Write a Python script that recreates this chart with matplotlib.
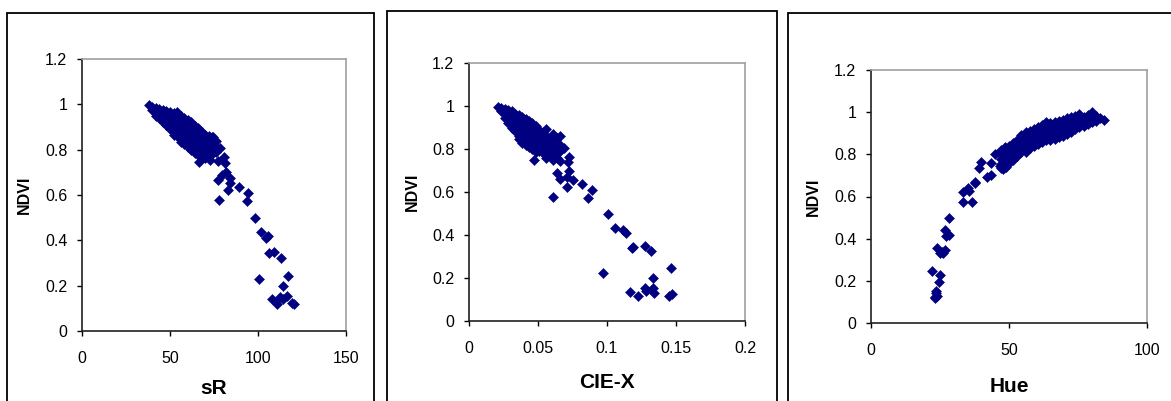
import matplotlib
matplotlib.use("Agg")
import matplotlib.pyplot as plt
from matplotlib.patches import Rectangle
from matplotlib.ticker import FuncFormatter

# sR vs NDVI
sr_pts = [
    (38, 0.995),
    (40, 0.99), (40, 0.975),
    (42, 0.985), (42, 0.965), (42, 0.95),
    (44, 0.98), (44, 0.96), (44, 0.94),
    (46, 0.975), (46, 0.955), (46, 0.935), (46, 0.92),
    (48, 0.97), (48, 0.95), (48, 0.93), (48, 0.91),
    (50, 0.965), (50, 0.945), (50, 0.925), (50, 0.905), (50, 0.89),
    (52, 0.96), (52, 0.94), (52, 0.92), (52, 0.90), (52, 0.88), (52, 0.865),
    (54, 0.965), (54, 0.935), (54, 0.915), (54, 0.895), (54, 0.875), (54, 0.86),
    (56, 0.95), (56, 0.93), (56, 0.91), (56, 0.89), (56, 0.87), (56, 0.85), (56, 0.835),
    (58, 0.94), (58, 0.92), (58, 0.90), (58, 0.88), (58, 0.86), (58, 0.84), (58, 0.825),
    (60, 0.93), (60, 0.91), (60, 0.89), (60, 0.87), (60, 0.85), (60, 0.83), (60, 0.81),
    (62, 0.92), (62, 0.90), (62, 0.88), (62, 0.86), (62, 0.84), (62, 0.82), (62, 0.80),
    (64, 0.905), (64, 0.885), (64, 0.865), (64, 0.845), (64, 0.825), (64, 0.80), (64, 0.785),
    (66, 0.895), (66, 0.875), (66, 0.855), (66, 0.835), (66, 0.815), (66, 0.79), (66, 0.775),
    (68, 0.88), (68, 0.86), (68, 0.84), (68, 0.82), (68, 0.80), (68, 0.78),
    (70, 0.865), (70, 0.845), (70, 0.825), (70, 0.805), (70, 0.785), (70, 0.765),
    (72, 0.86), (72, 0.835), (72, 0.815), (72, 0.795), (72, 0.77),
    (74, 0.855), (74, 0.83), (74, 0.80), (74, 0.78),
    (76, 0.84), (76, 0.81), (76, 0.79),
    (66.6, 0.747), (72.7, 0.754), (77.5, 0.75), (78.4, 0.806), (80.7, 0.769),
    (81.3, 0.74), (77.5, 0.667), (79.4, 0.688), (82, 0.70), (84, 0.673),
    (84, 0.655), (82.8, 0.622), (89.4, 0.634), (77.8, 0.578), (93.5, 0.572),
    (94.5, 0.61), (98.3, 0.497), (101.5, 0.438), (104.5, 0.41), (105.5, 0.42),
    (106.4, 0.343), (109, 0.35), (113, 0.323), (100.8, 0.228), (116.8, 0.244),
    (114.4, 0.199), (107.8, 0.14), (110.6, 0.119), (112.3, 0.15), (116.6, 0.154),
    (114.4, 0.14), (120.6, 0.119), (119.5, 0.125), (74.6, 0.857),
]

# CIE-X vs NDVI
ciex_pts = [
    (0.021, 0.995),
    (0.0235, 0.99), (0.0235, 0.975),
    (0.026, 0.985), (0.026, 0.965), (0.026, 0.945),
    (0.0285, 0.98), (0.0285, 0.96), (0.0285, 0.94), (0.0285, 0.92),
    (0.031, 0.975), (0.031, 0.955), (0.031, 0.935), (0.031, 0.915), (0.031, 0.90),
    (0.0335, 0.965), (0.0335, 0.945), (0.0335, 0.925), (0.0335, 0.905), (0.0335, 0.885),
    (0.036, 0.96), (0.036, 0.94), (0.036, 0.92), (0.036, 0.90), (0.036, 0.88), (0.036, 0.86), (0.036, 0.845),
    (0.0385, 0.95), (0.0385, 0.93), (0.0385, 0.91), (0.0385, 0.89), (0.0385, 0.87), (0.0385, 0.85), (0.0385, 0.83),
    (0.041, 0.94), (0.041, 0.92), (0.041, 0.90), (0.041, 0.88), (0.041, 0.86), (0.041, 0.84), (0.041, 0.82),
    (0.0435, 0.93), (0.0435, 0.91), (0.0435, 0.89), (0.0435, 0.87), (0.0435, 0.85), (0.0435, 0.83), (0.0435, 0.81),
    (0.046, 0.92), (0.046, 0.90), (0.046, 0.88), (0.046, 0.86), (0.046, 0.84), (0.046, 0.82), (0.046, 0.80),
    (0.0485, 0.905), (0.0485, 0.885), (0.0485, 0.865), (0.0485, 0.845), (0.0485, 0.825), (0.0485, 0.805), (0.0485, 0.785),
    (0.051, 0.89), (0.051, 0.87), (0.051, 0.85), (0.051, 0.83), (0.051, 0.81), (0.051, 0.79),
    (0.0535, 0.88), (0.0535, 0.86), (0.0535, 0.84), (0.0535, 0.82), (0.0535, 0.80), (0.0535, 0.78),
    (0.056, 0.895), (0.056, 0.86), (0.056, 0.84), (0.056, 0.82), (0.056, 0.80), (0.056, 0.78), (0.056, 0.76),
    (0.0585, 0.85), (0.0585, 0.83), (0.0585, 0.81), (0.0585, 0.79), (0.0585, 0.77),
    (0.061, 0.87), (0.061, 0.84), (0.061, 0.82), (0.061, 0.80), (0.061, 0.775), (0.061, 0.75),
    (0.0635, 0.85), (0.0635, 0.83), (0.0635, 0.80), (0.0635, 0.76),
    (0.066, 0.862), (0.066, 0.82), (0.066, 0.79), (0.066, 0.745),
    (0.047, 0.749), (0.0688, 0.803), (0.0727, 0.761), (0.0715, 0.74), (0.0727, 0.699),
    (0.0635, 0.687), (0.0659, 0.659), (0.0756, 0.656), (0.071, 0.67), (0.0611, 0.578),
    (0.0708, 0.622), (0.0817, 0.636), (0.0894, 0.608), (0.0865, 0.571), (0.101, 0.496),
    (0.1058, 0.431), (0.1114, 0.423), (0.1135, 0.408), (0.1179, 0.338), (0.119, 0.345),
    (0.1275, 0.35), (0.1316, 0.327), (0.0973, 0.225), (0.1461, 0.245), (0.1331, 0.201),
    (0.1167, 0.136), (0.1227, 0.118), (0.1275, 0.152), (0.128, 0.14), (0.133, 0.155),
    (0.1343, 0.129), (0.1449, 0.118), (0.147, 0.124),
]

# Hue vs NDVI
hue_pts = [
    (47, 0.82), (47, 0.80), (47, 0.78), (47, 0.755), (47, 0.735),
    (48.5, 0.83), (48.5, 0.81), (48.5, 0.79), (48.5, 0.765), (48.5, 0.74),
    (50, 0.84), (50, 0.82), (50, 0.80), (50, 0.78), (50, 0.76),
    (51.5, 0.855), (51.5, 0.835), (51.5, 0.815), (51.5, 0.795), (51.5, 0.775),
    (53, 0.87), (53, 0.85), (53, 0.83), (53, 0.81), (53, 0.79),
    (54.5, 0.89), (54.5, 0.87), (54.5, 0.85), (54.5, 0.83), (54.5, 0.81),
    (56, 0.905), (56, 0.885), (56, 0.865), (56, 0.845), (56, 0.825), (56, 0.81),
    (57.5, 0.91), (57.5, 0.89), (57.5, 0.87), (57.5, 0.85), (57.5, 0.83),
    (59, 0.92), (59, 0.90), (59, 0.88), (59, 0.86), (59, 0.84),
    (60.5, 0.93), (60.5, 0.91), (60.5, 0.89), (60.5, 0.87), (60.5, 0.85),
    (62, 0.94), (62, 0.92), (62, 0.90), (62, 0.88), (62, 0.86),
    (63.5, 0.955), (63.5, 0.93), (63.5, 0.91), (63.5, 0.89), (63.5, 0.87),
    (65, 0.95), (65, 0.93), (65, 0.91), (65, 0.89), (65, 0.87),
    (66.5, 0.955), (66.5, 0.935), (66.5, 0.915), (66.5, 0.895), (66.5, 0.875),
    (68, 0.96), (68, 0.94), (68, 0.92), (68, 0.90), (68, 0.88),
    (69.5, 0.965), (69.5, 0.945), (69.5, 0.925), (69.5, 0.905), (69.5, 0.885),
    (71, 0.97), (71, 0.95), (71, 0.93), (71, 0.91), (71, 0.895),
    (72.5, 0.975), (72.5, 0.955), (72.5, 0.935), (72.5, 0.905),
    (74, 0.98), (74, 0.96), (74, 0.94), (74, 0.92),
    (75.5, 0.99), (75.5, 0.97), (75.5, 0.95), (75.5, 0.93),
    (77, 0.975), (77, 0.955), (77, 0.935),
    (78.5, 0.985), (78.5, 0.965), (78.5, 0.945),
    (80, 1.0), (80, 0.975), (80, 0.955),
    (81.5, 0.98), (81.5, 0.96),
    (83, 0.97), (84.5, 0.965),
    (22, 0.247), (23.2, 0.125), (23.5, 0.14), (23.6, 0.15), (24.6, 0.196),
    (25, 0.228), (23.8, 0.354), (24.9, 0.33), (26.2, 0.334), (26.8, 0.345),
    (25.6, 0.338), (26.8, 0.441), (27, 0.415), (28.3, 0.417), (28.4, 0.5),
    (33.2, 0.575), (33.5, 0.623), (35, 0.64), (35.5, 0.625), (36.7, 0.575),
    (37.5, 0.67), (37.8, 0.665), (39.3, 0.734), (39.8, 0.762), (41.9, 0.694),
    (43.6, 0.70), (43.5, 0.757), (44.9, 0.8), (46.7, 0.746), (47.7, 0.73),
    (48.6, 0.836), (48.9, 0.74), (23.3, 0.12), (24, 0.13),
]

y_ticks = [0, 0.2, 0.4, 0.6, 0.8, 1.0, 1.2]

W, H = 1171, 401

def px_box(x0, y0, x1, y1):
    # pixel box (top-left origin) -> figure fraction [left, bottom, width, height]
    return [x0 / W, (H - y1) / H, (x1 - x0) / W, (y1 - y0) / H]

panels = [
    dict(pts=sr_pts, xlabel='sR', xlim=(0, 150), xticks=[0, 50, 100, 150],
         ax_px=(82, 59, 346, 331), frame_px=(7, 13, 374, 410), xl_y=388, yl_x=24),
    dict(pts=ciex_pts, xlabel='CIE-X', xlim=(0, 0.2), xticks=[0, 0.05, 0.1, 0.15, 0.2],
         ax_px=(469, 63, 745, 321), frame_px=(387, 11, 777, 410), xl_y=383, yl_x=412),
    dict(pts=hue_pts, xlabel='Hue', xlim=(0, 100), xticks=[0, 50, 100],
         ax_px=(871, 70, 1147, 323), frame_px=(788, 13, 1180, 410), xl_y=386, yl_x=813),
]

plt.rcParams['font.family'] = ['Liberation Sans', 'DejaVu Sans']

fig = plt.figure(figsize=(W / 100, H / 100), dpi=100)

for p in panels:
    fx0, fy0, fx1, fy1 = p['frame_px']
    fig.add_artist(Rectangle((fx0 / W, (H - fy1) / H), (fx1 - fx0) / W, (fy1 - fy0) / H,
                             transform=fig.transFigure, fill=False,
                             edgecolor='black', linewidth=1.3))

    ax = fig.add_axes(px_box(*p['ax_px']))
    xs = [a for a, b in p['pts']]
    ys = [b for a, b in p['pts']]
    ax.plot(xs, ys, linestyle='none', marker='D', markersize=5,
            color='#000080', markeredgewidth=0.4)

    ax.set_xlim(*p['xlim'])
    ax.set_ylim(0, 1.2)
    ax.set_xticks(p['xticks'])
    ax.set_yticks(y_ticks)
    ax.xaxis.set_major_formatter(FuncFormatter(lambda v, pos: '%g' % round(v, 4)))
    ax.yaxis.set_major_formatter(FuncFormatter(lambda v, pos: '%g' % round(v, 4)))
    ax.tick_params(direction='out', length=3.6, width=1, colors='black', labelsize=11.5)
    ax.tick_params(axis='x', pad=11)
    ax.tick_params(axis='y', pad=7)

    for s in ['left', 'bottom']:
        ax.spines[s].set_color('#202020')
        ax.spines[s].set_linewidth(1.2)
    for s in ['top', 'right']:
        ax.spines[s].set_color('#a0a0a0')
        ax.spines[s].set_linewidth(1.2)

    ax0, ay0, ax1, ay1 = p['ax_px']
    fig.text(((ax0 + ax1) / 2) / W, (H - p['xl_y']) / H, p['xlabel'],
             ha='center', va='center', fontsize=15, fontweight='bold')
    fig.text(p['yl_x'] / W, (H - (ay0 + ay1) / 2) / H, 'NDVI', rotation=90,
             ha='center', va='center', fontsize=11.5, fontweight='bold')

fig.savefig('out.png', dpi=100)
